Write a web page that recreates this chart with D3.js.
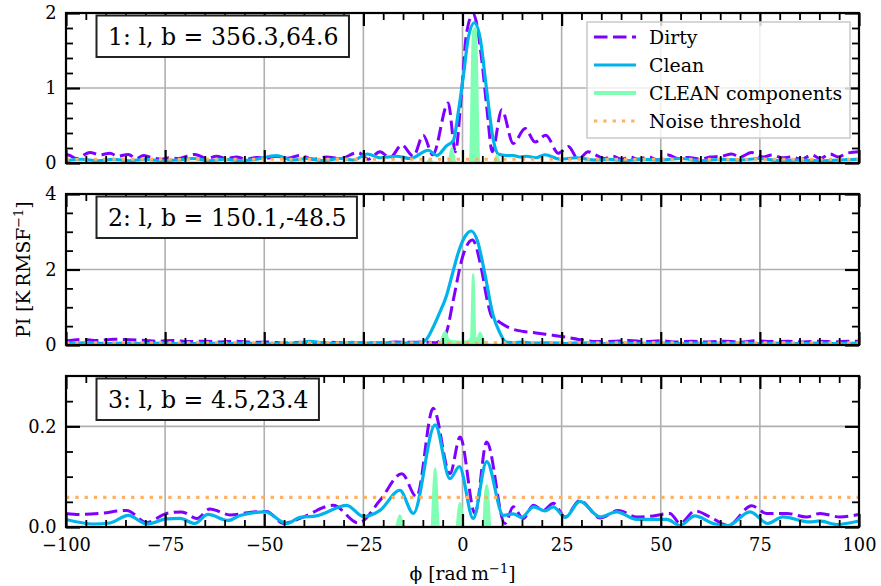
<!DOCTYPE html>
<html>
<head>
<meta charset="utf-8">
<script src="https://cdn.jsdelivr.net/npm/d3@7"></script>
<style>
  html, body { margin: 0; padding: 0; background: #fff; }
  svg { display: block; }
  text { font-family: "DejaVu Serif", serif; fill: #000; }
</style>
</head>
<body>
<svg id="chart" width="881" height="586"></svg>
<script>
// Faraday depth axis (ϕ) and its ticks
const phiDomain = [-100, 100];
const xMajor = [-100, -75, -50, -25, 0, 25, 50, 75, 100];
const xMinor = d3.range(-95, 100, 5).filter(v => v % 25 !== 0);

// Panel titles
const panelTitles = ["1: l, b = 356.3,64.6", "2: l, b = 150.1,-48.5", "3: l, b = 4.5,23.4"];

// Y tick layout per panel
const yDomains = [[0, 2], [0, 4], [0, 0.3]];
const yMajors = [[0, 1, 2], [0, 2, 4], [0, 0.2]];
const yMinors = [[0.2, 0.4, 0.6, 0.8, 1.2, 1.4, 1.6, 1.8],
                 [0.5, 1, 1.5, 2.5, 3, 3.5],
                 [0.05, 0.1, 0.15, 0.25]];
const yFormats = ["d", "d", ".1f"];

// Noise threshold per panel
const noiseLevels = [0.05, 0.06, 0.059];

// Sightline 1: dirty FDF, cleaned FDF, CLEAN components  [phi, PI]
const dirty1 = [[-100,0.11],[-99.4,0.107],[-97.3,0.06],[-94,0.14],[-91.4,0.11],[-88.9,0.13],[-86.9,0.09],[-84.3,0.115],[-82.2,0.06],[-80.5,0.1],[-78.4,0.07],[-75.9,0.05],[-73.8,0.07],[-71.7,0.06],[-69.5,0.09],[-67.5,0.115],[-64.5,0.06],[-62,0.09],[-59.5,0.06],[-57,0.08],[-54.4,0.05],[-51.9,0.075],[-49.4,0.065],[-46.9,0.09],[-44.3,0.065],[-41,0.1],[-37.7,0.05],[-34.3,0.08],[-30.9,0.06],[-26.3,0.14],[-23.8,0.05],[-20.8,0.15],[-18.3,0.07],[-15.3,0.24],[-12.4,0.09],[-9.9,0.37],[-7.5,0.11],[-3.6,0.8],[-1.8,0.15],[-0.3,0.9],[1.0,1.72],[2.7,1.99],[4.8,1.4],[6.2,0.7],[7.5,0.15],[9.9,0.71],[12.8,0.26],[15.8,0.46],[18.3,0.28],[21,0.37],[24.2,0.13],[26.7,0.22],[29.2,0.05],[31.7,0.15],[34.2,0.09],[35.9,0.06],[38,0.09],[40.1,0.05],[42.2,0.08],[44.3,0.05],[46.9,0.08],[49.4,0.04],[51.9,0.107],[54.4,0.06],[57,0.075],[59.9,0.05],[62.4,0.08],[65.4,0.09],[67.9,0.12],[70,0.08],[72.9,0.14],[75.9,0.08],[78,0.107],[80.5,0.07],[83,0.08],[85.5,0.05],[88.1,0.107],[90.2,0.06],[92.7,0.12],[94.8,0.08],[96.9,0.13],[100,0.15]];
const clean1 = [[-100,0.03],[-96,0.05],[-92,0.03],[-88,0.05],[-84,0.03],[-80,0.05],[-76,0.03],[-72,0.04],[-68,0.06],[-64,0.03],[-60,0.05],[-56,0.03],[-52,0.05],[-47,0.1],[-43,0.04],[-39,0.06],[-35,0.03],[-31,0.06],[-27.5,0.04],[-24,0.12],[-20.8,0.07],[-16.6,0.09],[-13.2,0.06],[-8.6,0.17],[-6.5,0.1],[-4,0.23],[-2.3,0.3],[-1,0.7],[0.2,1.15],[1.5,1.68],[3,1.87],[4.4,1.68],[6.1,0.97],[7.8,0.3],[9,0.12],[11,0.1],[12.8,0.1],[14.5,0.08],[16.2,0.09],[18.5,0.07],[20.8,0.11],[24.6,0.05],[28.8,0.07],[33,0.04],[37,0.05],[41,0.03],[45,0.05],[50,0.04],[55,0.06],[60,0.03],[65,0.05],[70,0.04],[75,0.06],[80,0.03],[85,0.04],[90,0.03],[95,0.04],[100,0.05]];
const comps1 = [[-100,0],[-9,0],[-8.2,0.05],[-7.4,0],[-3.6,0],[-2.7,0.2],[-1.8,0],[1.9,0],[2.7,1.75],[3.3,1.8],[4.2,0],[8,0],[8.7,0.1],[9.4,0],[100,0]];

// Sightline 2
const dirty2 = [[-100,0.11],[-96,0.15],[-92,0.12],[-88,0.15],[-84,0.14],[-80,0.12],[-77,0.1],[-73,0.12],[-69,0.09],[-65,0.1],[-61,0.08],[-57,0.1],[-53,0.07],[-49,0.08],[-45,0.05],[-41,0.07],[-37,0.05],[-33,0.07],[-29,0.05],[-25,0.06],[-21,0.05],[-17,0.08],[-13,0.07],[-10,0.08],[-7,0.06],[-5.7,0.1],[-4,0.35],[-2.4,1.15],[0.2,2.4],[2.5,2.78],[4.8,2.0],[6.2,1.2],[7.4,0.75],[8.6,0.66],[11.9,0.45],[15.3,0.36],[18.6,0.32],[22,0.27],[25.4,0.22],[30.4,0.13],[33.8,0.09],[38,0.1],[42,0.12],[46,0.09],[50,0.11],[54,0.08],[58,0.1],[62,0.08],[66,0.1],[70,0.08],[74,0.11],[78,0.09],[82,0.1],[86,0.08],[90,0.1],[94,0.08],[97,0.1],[100,0.1]];
const clean2 = [[-100,0.05],[-95,0.06],[-90,0.04],[-85,0.05],[-80,0.04],[-75,0.05],[-70,0.03],[-65,0.05],[-60,0.04],[-55,0.05],[-50,0.03],[-45,0.04],[-41,0.06],[-38.5,0.1],[-35,0.05],[-31,0.04],[-28,0.07],[-24,0.05],[-20,0.06],[-16,0.05],[-12,0.06],[-10,0.08],[-9,0.16],[-7.5,0.45],[-6,0.8],[-4,1.32],[-2.5,1.9],[-1.2,2.4],[0.5,2.85],[2.2,3.02],[3.8,2.75],[5.7,1.85],[7.7,0.8],[9.3,0.35],[11,0.08],[13,0.06],[15,0.08],[18,0.05],[22,0.06],[26,0.04],[30,0.06],[35,0.04],[40,0.05],[45,0.04],[50,0.05],[55,0.04],[60,0.05],[65,0.04],[70,0.05],[75,0.04],[80,0.05],[85,0.04],[90,0.05],[95,0.04],[100,0.05]];
const comps2 = [[-100,0],[-6,0],[-4.4,0.34],[-3.4,0.12],[-2.5,0.1],[0,0.08],[1.5,0.1],[2.2,0.2],[2.7,1.88],[3.2,0.2],[3.8,0.15],[4.4,0.32],[5.5,0.08],[7,0],[100,0]];

// Sightline 3
const dirty3 = [[-100,0.027],[-96.5,0.025],[-91.4,0.027],[-84.7,0.033],[-79.6,0.009],[-74.6,0.027],[-70.8,0.03],[-67,0.017],[-63.7,0.036],[-58.6,0.024],[-52.8,0.03],[-49.4,0.031],[-45.2,0.007],[-41,0.017],[-32.6,0.043],[-26.3,0.008],[-20.8,0.053],[-15.3,0.106],[-11.6,0.06],[-7.4,0.236],[-3.15,0.106],[-0.6,0.179],[3.15,0.027],[6.1,0.169],[10.7,0.007],[12.8,0.04],[15.3,0.017],[17.9,0.043],[20.4,0.033],[22.9,0.047],[25.9,0.02],[29.6,0.053],[34.7,0.018],[39.3,0.033],[43.9,0.02],[48.1,0.022],[52.3,0.027],[54.9,0.007],[58.6,0.032],[62.4,0.02],[67,0.003],[72.9,0.042],[76.7,0.027],[81.8,0.027],[86.8,0.02],[90.2,0.027],[95.2,0.02],[100,0.025]];
const clean3 = [[-100,0.015],[-93.1,0.006],[-88.9,0.008],[-84.3,0.023],[-79.6,0.006],[-74.6,0.016],[-71.2,0.017],[-67.5,0.007],[-64.2,0.025],[-59.1,0.013],[-56.1,0.023],[-49.8,0.03],[-44.3,0.007],[-41,0.019],[-36.8,0.022],[-29.2,0.043],[-25,0.021],[-20.8,0.033],[-15.8,0.073],[-12.4,0.027],[-6.9,0.203],[-3.15,0.096],[-0.8,0.12],[2.7,0.017],[6.1,0.13],[10.3,0.023],[12.8,0.026],[14.9,0.019],[17.9,0.04],[20.8,0.032],[22.9,0.04],[25.9,0.019],[29.6,0.051],[34.7,0.02],[38.9,0.03],[43.9,0.015],[51.5,0.015],[54.9,0.003],[58.6,0.022],[63.2,0.007],[67,0.003],[72.5,0.03],[77,0.007],[80.8,0.02],[87.6,0.01],[90,0.012],[94.4,0.005],[100,0.012]];
const comps3 = [[-100,0],[-16.8,0],[-15.8,0.023],[-14.8,0],[-7.8,0],[-7.2,0.09],[-6.9,0.116],[-6.6,0.09],[-6.0,0],[-1.5,0],[-0.9,0.038],[-0.6,0.047],[-0.3,0.038],[0.3,0],[5.2,0],[5.8,0.07],[6.1,0.083],[6.4,0.07],[7.0,0],[100,0]];

const dirtySeries = [dirty1, dirty2, dirty3];
const cleanSeries = [clean1, clean2, clean3];
const compSeries = [comps1, comps2, comps3];

// Legend entries
const legendLabels = ["Dirty", "Clean", "CLEAN components", "Noise threshold"];

const colors = { dirty: "#7f00ff", clean: "#00b4eb", comps: "#80ffb4", noise: "#ffb060", grid: "#b0b0b0" };

const svg = d3.select("#chart");
const left = 66, right = 859;
const panelBoxes = [[13, 163], [194, 345], [376, 527]];

const x = d3.scaleLinear().domain(phiDomain).range([left, right]);

panelBoxes.forEach((box, i) => {
  const [top, bottom] = box;
  const y = d3.scaleLinear().domain(yDomains[i]).range([bottom, top]);
  const g = svg.append("g");

  const clipId = "clip" + i;
  svg.append("clipPath").attr("id", clipId)
    .append("rect").attr("x", left).attr("y", top).attr("width", right - left).attr("height", bottom - top);

  // grid at major ticks
  const grid = g.append("g").attr("stroke", colors.grid).attr("stroke-width", 1.6);
  grid.selectAll(".gx").data(xMajor.filter(v => v > phiDomain[0] && v < phiDomain[1])).join("line")
    .attr("x1", d => x(d)).attr("x2", d => x(d)).attr("y1", top).attr("y2", bottom);
  grid.selectAll(".gy").data(yMajors[i].filter(v => v > yDomains[i][0] && v < yDomains[i][1])).join("line")
    .attr("x1", left).attr("x2", right).attr("y1", d => y(d)).attr("y2", d => y(d));

  const plot = g.append("g").attr("clip-path", `url(#${clipId})`);
  const line = d3.line().x(d => x(d[0])).y(d => y(d[1])).curve(d3.curveMonotoneX);

  plot.append("path").datum(dirtySeries[i]).attr("d", line)
    .attr("fill", "none").attr("stroke", colors.dirty).attr("stroke-width", 3)
    .attr("stroke-dasharray", "13.5,5.5");
  plot.append("path").datum(cleanSeries[i]).attr("d", line)
    .attr("fill", "none").attr("stroke", colors.clean).attr("stroke-width", 3.2);

  const area = d3.area().x(d => x(d[0])).y0(y(0)).y1(d => y(d[1])).curve(d3.curveMonotoneX);
  plot.append("path").datum(compSeries[i]).attr("d", area).attr("fill", colors.comps);
  plot.append("path").datum(compSeries[i]).attr("d", line)
    .attr("fill", "none").attr("stroke", colors.comps).attr("stroke-width", 2.5);

  plot.append("line")
    .attr("x1", x(phiDomain[0])).attr("x2", x(phiDomain[1]))
    .attr("y1", y(noiseLevels[i])).attr("y2", y(noiseLevels[i]))
    .attr("stroke", colors.noise).attr("stroke-width", 3.2).attr("stroke-dasharray", "3.3,6");

  // ticks, all pointing inward
  const addAxis = (axisFn, scale, values, size, transform, fmt) => {
    const a = axisFn(scale).tickValues(values).tickSizeInner(-size).tickSizeOuter(0);
    if (fmt) a.tickFormat(fmt).tickPadding(axisFn === d3.axisBottom ? 11 : 9.5);
    else a.tickFormat("");
    const ag = g.append("g").attr("transform", transform).call(a);
    ag.select(".domain").remove();
    ag.selectAll("line").attr("stroke", "#000").attr("stroke-width", size > 10 ? 2.2 : 1.8);
    ag.selectAll("text").style("font-family", '"DejaVu Serif", serif').style("font-size", "17.8px").attr("fill", "#000");
    return ag;
  };
  const yFmt = d3.format(yFormats[i]);
  addAxis(d3.axisLeft, y, yMinors[i], 7, `translate(${left},0)`);
  addAxis(d3.axisLeft, y, yMajors[i], 14, `translate(${left},0)`, yFmt);
  addAxis(d3.axisRight, y, yMinors[i], 7, `translate(${right},0)`);
  addAxis(d3.axisRight, y, yMajors[i], 14, `translate(${right},0)`);
  addAxis(d3.axisTop, x, xMinor, 7, `translate(0,${top})`);
  addAxis(d3.axisTop, x, xMajor, 13, `translate(0,${top})`);
  addAxis(d3.axisBottom, x, xMinor, 7, `translate(0,${bottom})`);
  addAxis(d3.axisBottom, x, xMajor, 13, `translate(0,${bottom})`, i === 2 ? d3.format("d") : null);

  // frame
  g.append("rect").attr("x", left).attr("y", top).attr("width", right - left).attr("height", bottom - top)
    .attr("fill", "none").attr("stroke", "#000").attr("stroke-width", 2.2);

  // sightline label
  const lg = g.append("g");
  const lbox = lg.append("rect").attr("x", 96.5).attr("y", top + 2.5).attr("height", 41.5)
    .attr("fill", "#fff").attr("stroke", "#222").attr("stroke-width", 2);
  const lt = lg.append("text").attr("x", 108).attr("y", top + 23.5).attr("dy", "0.36em")
    .style("font-size", "23.6px").text(panelTitles[i]);
  lbox.attr("width", lt.node().getComputedTextLength() + 22);

  if (i === 0) {
    const leg = g.append("g");
    leg.append("rect").attr("x", 587).attr("y", 22).attr("width", 263).attr("height", 116)
      .attr("fill", "#fff").attr("fill-opacity", 0.8).attr("stroke", "#cccccc").attr("stroke-width", 1.6);
    const rows = leg.selectAll("g.row").data(legendLabels).join("g")
      .attr("transform", (d, k) => `translate(0,${37 + k * 28})`);
    const styles = [
      { c: colors.dirty, w: 3, dash: "13.5,5.5" },
      { c: colors.clean, w: 3.2, dash: null },
      { c: colors.comps, w: 4.2, dash: null },
      { c: colors.noise, w: 3.2, dash: "3.3,6" }
    ];
    rows.append("line").attr("x1", 594).attr("x2", 636).attr("y1", 0).attr("y2", 0)
      .attr("stroke", (d, k) => styles[k].c).attr("stroke-width", (d, k) => styles[k].w)
      .attr("stroke-dasharray", (d, k) => styles[k].dash);
    rows.append("text").attr("x", 649).attr("dy", "0.36em").style("font-size", "18.9px").text(d => d);
  }
});

// axis titles
const yt = svg.append("text").attr("transform", "translate(30,269.5) rotate(-90)")
  .attr("text-anchor", "middle").style("font-size", "18.7px");
yt.append("tspan").text("PI [K\u2009RMSF");
yt.append("tspan").attr("dy", -7).style("font-size", "13px").text("\u22121");
yt.append("tspan").attr("dy", 7).text("]");

const xt = svg.append("text").attr("x", 462.5).attr("y", 580)
  .attr("text-anchor", "middle").style("font-size", "18.7px");
xt.append("tspan").text("\u03d5 [rad\u2009m");
xt.append("tspan").attr("dy", -7).style("font-size", "13px").text("\u22121");
xt.append("tspan").attr("dy", 7).text("]");
</script>
</body>
</html>
